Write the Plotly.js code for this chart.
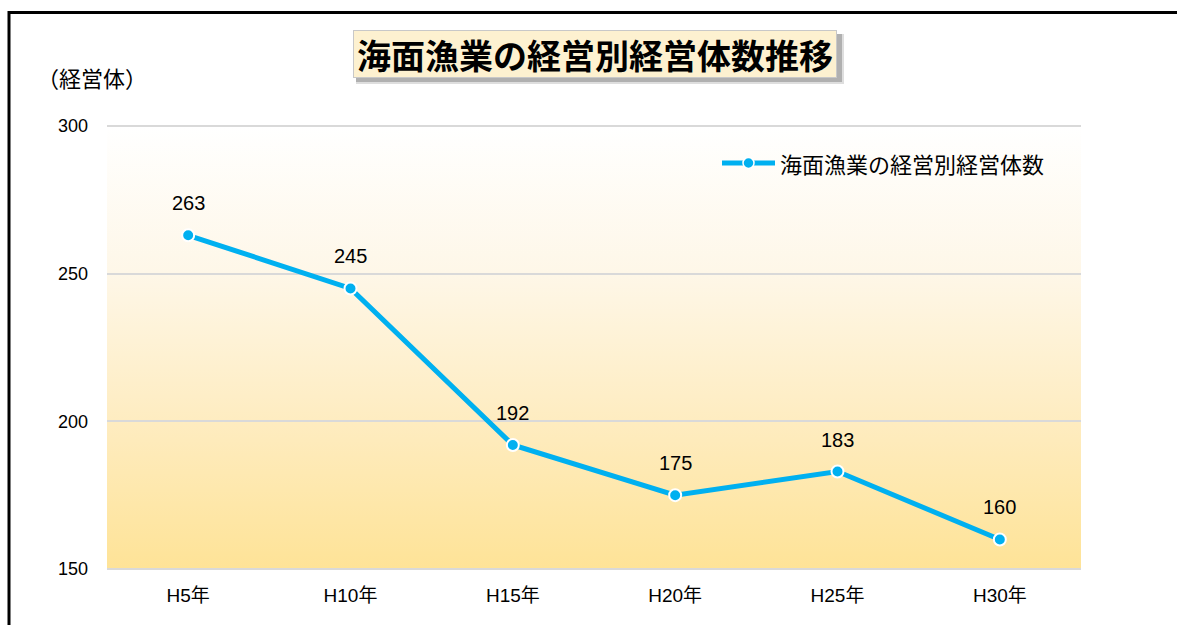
<!DOCTYPE html>
<html>
<head>
<meta charset="utf-8">
<script src="https://cdn.plot.ly/plotly-3.0.1.min.js"></script>
<style>
  html, body { margin: 0; padding: 0; background: #ffffff; }
  #chart { width: 1177px; height: 625px; }
</style>
</head>
<body>
<div id="chart"></div>
<script>
// ---- data ----
const categories = ["H5年", "H10年", "H15年", "H20年", "H25年", "H30年"];
const values = [263, 245, 192, 175, 183, 160];
const seriesName = "海面漁業の経営別経営体数";
const chartTitle = "海面漁業の経営別経営体数推移";
const yUnit = "（経営体）";
const yTicks = [150, 200, 250, 300];

// ---- layout geometry ----
const W = 1177, H = 625;
const M = { l: 107, r: 96, t: 126, b: 56 };
const PW = W - M.l - M.r, PH = H - M.t - M.b;
const px = x => (x - M.l) / PW;          // pixel -> paper x
const py = y => (H - M.b - y) / PH;       // pixel -> paper y

const FONT = "Liberation Sans, Arial, Noto Sans CJK JP, sans-serif";
const JFONT = "Noto Sans CJK JP, Liberation Sans, sans-serif";
const LINE_COLOR = "#00B0F0";

const gradSvg =
  '<svg xmlns="http://www.w3.org/2000/svg" width="10" height="100" preserveAspectRatio="none">' +
  '<defs><linearGradient id="g" x1="0" y1="0" x2="0" y2="1">' +
  '<stop offset="0" stop-color="#FFFFFF"/>' +
  '<stop offset="0.33" stop-color="#FEF7E8"/>' +
  '<stop offset="0.67" stop-color="#FEECC0"/>' +
  '<stop offset="1" stop-color="#FEE397"/>' +
  '</linearGradient></defs><rect width="10" height="100" fill="url(#g)"/></svg>';
const gradUri = "data:image/svg+xml;base64," + btoa(gradSvg);

const trace = {
  type: "scatter",
  mode: "lines+markers",
  x: categories,
  y: values,
  name: seriesName,
  line: { color: LINE_COLOR, width: 5 },
  marker: { color: LINE_COLOR, size: 12, line: { color: "#ffffff", width: 2 } },
  cliponaxis: false,
  showlegend: false,
  hoverinfo: "skip"
};

const labelAnns = categories.map((c, i) => ({
  x: c, y: values[i], xref: "x", yref: "y",
  text: String(values[i]), showarrow: false, yshift: 32,
  font: { family: FONT, size: 20, color: "#000000" }
}));

const legendY = py(163);

const layout = {
  width: W, height: H,
  margin: M,
  paper_bgcolor: "#ffffff",
  plot_bgcolor: "rgba(0,0,0,0)",
  showlegend: false,
  xaxis: {
    type: "category",
    range: [-0.5, categories.length - 0.5],
    showgrid: false, zeroline: false, showline: false,
    ticks: "",
    ticklabelstandoff: 13,
    tickfont: { family: FONT, size: 19, color: "#000000" },
    fixedrange: true
  },
  yaxis: {
    range: [150, 300],
    tickvals: yTicks,
    ticktext: yTicks.map(String),
    showgrid: true, gridcolor: "#D9D9D9", gridwidth: 2,
    zeroline: false, showline: false, ticks: "",
    ticklabelstandoff: 18,
    tickfont: { family: FONT, size: 18, color: "#000000" },
    fixedrange: true
  },
  images: [{
    source: gradUri, xref: "paper", yref: "paper",
    x: 0, y: 1, sizex: 1, sizey: 1, xanchor: "left", yanchor: "top",
    sizing: "stretch", layer: "below"
  }],
  shapes: [
    // plot edge grid lines (top & bottom)
    { type: "line", xref: "paper", yref: "paper", x0: 0, x1: 1, y0: 1, y1: 1,
      line: { color: "#D9D9D9", width: 2 }, layer: "below" },
    { type: "line", xref: "paper", yref: "paper", x0: 0, x1: 1, y0: 0, y1: 0,
      line: { color: "#D9D9D9", width: 2 }, layer: "below" },
    // frame lines
    { type: "line", xref: "paper", yref: "paper", x0: px(9), x1: px(1180), y0: py(12.5), y1: py(12.5),
      line: { color: "#000000", width: 3 } },
    { type: "line", xref: "paper", yref: "paper", x0: px(9), x1: px(9), y0: py(11), y1: py(630),
      line: { color: "#000000", width: 3 } },
    // title shadow
    { type: "rect", xref: "paper", yref: "paper", x0: px(356), x1: px(844), y0: py(34), y1: py(84),
      fillcolor: "rgba(160,160,160,0.35)", line: { width: 0 } },
    { type: "rect", xref: "paper", yref: "paper", x0: px(356), x1: px(842), y0: py(34), y1: py(82),
      fillcolor: "rgba(120,120,120,0.45)", line: { width: 0 } },
    // legend symbol
    { type: "line", xref: "paper", yref: "paper", x0: px(722), x1: px(775), y0: legendY, y1: legendY,
      line: { color: LINE_COLOR, width: 5 } },
    { type: "circle", xref: "paper", yref: "paper", xsizemode: "pixel", ysizemode: "pixel",
      xanchor: px(748.5), yanchor: legendY, x0: -5.5, x1: 5.5, y0: -5.5, y1: 5.5,
      fillcolor: LINE_COLOR, line: { color: "#ffffff", width: 1.5 } }
  ],
  annotations: [
    {
      xref: "paper", yref: "paper", x: px(595), y: py(54), xanchor: "center", yanchor: "middle",
      text: "<b>" + chartTitle + "</b>", showarrow: false,
      width: 478, height: 42, align: "center", valign: "middle",
      font: { family: JFONT, size: 34, color: "#000000" },
      bgcolor: "#FDF1D0", bordercolor: "#C8C8C8", borderwidth: 1, borderpad: 2
    },
    {
      xref: "paper", yref: "paper", x: px(35), y: py(77), xanchor: "left", yanchor: "middle",
      text: yUnit, showarrow: false,
      font: { family: JFONT, size: 22, color: "#000000" }
    },
    {
      xref: "paper", yref: "paper", x: px(778), y: legendY, xanchor: "left", yanchor: "middle",
      text: seriesName, showarrow: false,
      font: { family: JFONT, size: 22, color: "#000000" }
    }
  ].concat(labelAnns)
};

Plotly.newPlot("chart", [trace], layout, { displayModeBar: false, staticPlot: true });
</script>
</body>
</html>
